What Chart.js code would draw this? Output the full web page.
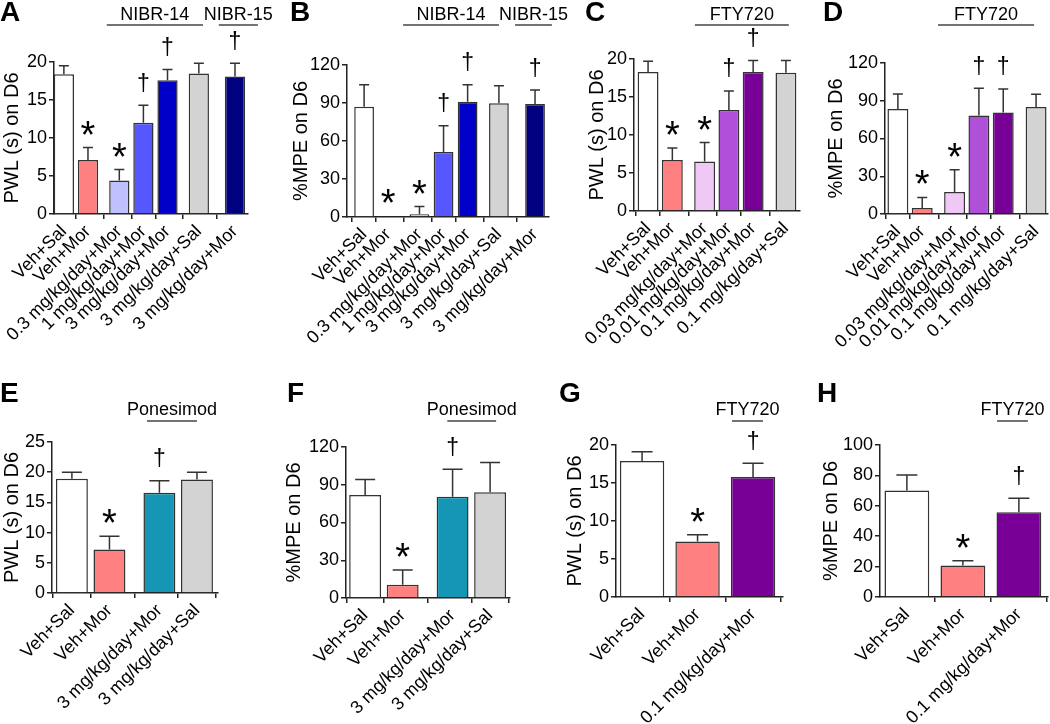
<!DOCTYPE html>
<html>
<head>
<meta charset="utf-8">
<script src="https://cdn.jsdelivr.net/npm/chart.js@4.4.1/dist/chart.umd.min.js"></script>
<style>
  body { margin: 0; background: #fff; width: 1050px; height: 724px; position: relative; overflow: hidden; }
  canvas { position: absolute; }
  .tag { position: absolute; font: bold 28px "Liberation Sans", Arial, sans-serif; line-height: 28px; color: #000; z-index: 5; }
</style>
</head>
<body>
<div class="tag" style="left:0px;top:-2px">A</div>
<div class="tag" style="left:290px;top:-2px">B</div>
<div class="tag" style="left:585px;top:-2px">C</div>
<div class="tag" style="left:823px;top:-2px">D</div>
<div class="tag" style="left:0px;top:379px">E</div>
<div class="tag" style="left:287px;top:379px">F</div>
<div class="tag" style="left:559px;top:379px">G</div>
<div class="tag" style="left:817px;top:379px">H</div>
<script>
// categories
var labelsNIBR = ['Veh+Sal', 'Veh+Mor', '0.3 mg/kg/day+Mor', '1 mg/kg/day+Mor', '3 mg/kg/day+Mor', '3 mg/kg/day+Sal', '3 mg/kg/day+Mor'];
var labelsFTY = ['Veh+Sal', 'Veh+Mor', '0.03 mg/kg/day+Mor', '0.01 mg/kg/day+Mor', '0.1 mg/kg/day+Mor', '0.1 mg/kg/day+Sal'];
var labelsPone = ['Veh+Sal', 'Veh+Mor', '3 mg/kg/day+Mor', '3 mg/kg/day+Sal'];
var labelsFTY2 = ['Veh+Sal', 'Veh+Mor', '0.1 mg/kg/day+Mor'];

// means and SEM (upper error only)
var pwlA = [18.4, 7.1, 4.4, 12.0, 17.6, 18.5, 18.1];
var pwlErrA = [1.1, 1.65, 1.45, 2.3, 1.4, 1.35, 1.75];
var mpeB = [87.0, 0.5, 2.1, 51.4, 91.0, 89.9, 89.2];
var mpeErrB = [17.4, 0, 6.1, 20.6, 13.4, 13.7, 11.0];
var pwlC = [18.3, 6.7, 6.5, 13.3, 18.3, 18.2];
var pwlErrC = [1.4, 1.6, 2.5, 2.5, 1.5, 1.6];
var mpeD = [83.5, 4.8, 17.4, 78.2, 80.6, 85.1];
var mpeErrD = [11.9, 8.4, 17.8, 21.7, 18.8, 10.0];
var pwlE = [18.9, 7.2, 16.6, 18.8];
var pwlErrE = [1.1, 2.2, 2.0, 1.2];
var mpeF = [81.9, 10.6, 80.4, 84.1];
var mpeErrF = [12.2, 11.6, 21.9, 23.5];
var pwlG = [17.9, 7.3, 15.8];
var pwlErrG = [1.2, 0.9, 1.8];
var mpeH = [70.0, 20.8, 55.7];
var mpeErrH = [10.3, 3.1, 9.2];

// significance markers
var marksNIBR = ['', '*', '*', '\u2020', '\u2020', '', '\u2020'];
var marksFTY = ['', '*', '*', '\u2020', '\u2020', ''];
var marksPone = ['', '*', '\u2020', ''];
var marksFTY2 = ['', '*', '\u2020'];

// bar fills
var colorsNIBR = ['#ffffff', '#ff8080', '#c0c0ff', '#5757ff', '#0000c8', '#d3d3d3', '#000080'];
var colorsFTY = ['#ffffff', '#ff8080', '#f0c8f6', '#b050d8', '#780096', '#d3d3d3'];
var colorsPone = ['#ffffff', '#ff8080', '#1496b4', '#d3d3d3'];
var colorsFTY2 = ['#ffffff', '#ff8080', '#780096'];

var FONT = '"Liberation Sans", Arial, sans-serif';
Chart.defaults.font.family = FONT;
Chart.defaults.color = '#000';

// error bars, * / dagger marks and drug brackets
var decor = {
  id: 'decor',
  afterDatasetsDraw: function (chart, args, o) {
    var ctx = chart.ctx, ys = chart.scales.y, xs = chart.scales.x;
    var bars = chart.getDatasetMeta(0).data;
    ctx.save();
    ctx.strokeStyle = '#333';
    ctx.lineWidth = 1.5;
    ctx.fillStyle = '#000';
    ctx.textAlign = 'center';
    bars.forEach(function (bar, i) {
      var e = o.err[i];
      var yTop = ys.getPixelForValue(o.values[i] + e);
      if (e > 0) {
        ctx.beginPath();
        ctx.moveTo(bar.x, bar.y);
        ctx.lineTo(bar.x, yTop);
        ctx.moveTo(bar.x - o.cap, yTop);
        ctx.lineTo(bar.x + o.cap, yTop);
        ctx.stroke();
      }
      var m = o.marks[i];
      if (m) {
        var star = m === '*';
        ctx.font = star ? '38px ' + FONT : '23px ' + FONT;
        ctx.textBaseline = 'alphabetic';
        var mt = ctx.measureText(m);
        var cy = yTop - (star ? 20 : 23);
        ctx.fillText(m, bar.x, cy + (mt.actualBoundingBoxAscent - mt.actualBoundingBoxDescent) / 2);
      }
    });
    ctx.font = '18px ' + FONT;
    ctx.textBaseline = 'middle';
    ctx.strokeStyle = '#444';
    o.groups.forEach(function (g) {
      var x0 = xs.getPixelForValue(g.x0), x1 = xs.getPixelForValue(g.x1);
      ctx.beginPath();
      ctx.moveTo(x0, o.lineY - o.top);
      ctx.lineTo(x1, o.lineY - o.top);
      ctx.stroke();
      ctx.fillText(g.text, (x0 + x1) / 2, o.textY - o.top);
    });
    ctx.restore();
  }
};

function positions(gaps) {
  var out = [], acc = 0;
  gaps.forEach(function (g, i) { acc += g; out.push(i + acc); });
  return out;
}

function panel(p) {
  var c = document.createElement('canvas');
  var bx = p.box[0], by = p.box[1], bw = p.box[2], bh = p.box[3];
  c.width = bw; c.height = bh;
  c.style.left = bx + 'px'; c.style.top = by + 'px';
  c.style.width = bw + 'px'; c.style.height = bh + 'px';
  document.body.appendChild(c);
  var pos = positions(p.gaps);
  var axisLine = { color: '#222', width: 1.5 };
  var tickGrid = { drawOnChartArea: false, drawTicks: true, tickLength: 5, color: '#222', lineWidth: 1.5 };
  new Chart(c, {
    type: 'bar',
    data: {
      datasets: [{
        data: p.values.map(function (v, i) { return { x: pos[i], y: v }; }),
        backgroundColor: p.colors,
        borderColor: '#333',
        borderWidth: 1.5,
        barPercentage: p.barPct,
        categoryPercentage: 1
      }]
    },
    options: {
      responsive: false,
      animation: false,
      devicePixelRatio: 1,
      layout: { padding: { left: 0, bottom: 0, top: p.plot[1] - by, right: bx + bw - p.plot[2] } },
      scales: {
        x: {
          type: 'linear', min: p.xr[0], max: p.xr[1], offset: false,
          afterBuildTicks: function (ax) { ax.ticks = pos.map(function (v) { return { value: v }; }); },
          afterFit: function (s) { s.height = by + bh - p.plot[3]; s.paddingLeft = 0; s.paddingRight = 0; },
          ticks: {
            autoSkip: false, minRotation: 45, maxRotation: 45, padding: 2,
            font: { size: 18 }, color: '#000',
            callback: function (v, i) { return p.labels[i]; }
          },
          grid: tickGrid, border: axisLine
        },
        y: {
          min: 0, max: p.yMax,
          afterFit: function (s) { s.width = p.plot[0] - bx; s.paddingTop = 0; s.paddingBottom = 0; },
          ticks: { stepSize: p.step, font: { size: 18 }, color: '#000', padding: 2 },
          title: { display: true, text: p.title, font: { size: 20 }, color: '#000', padding: { top: p.titleX - bx - 12, bottom: 0 } },
          grid: tickGrid, border: axisLine
        }
      },
      plugins: {
        legend: { display: false },
        tooltip: { enabled: false },
        decor: { values: p.values, err: p.err, marks: p.marks, cap: p.cap, groups: p.groups, lineY: p.lineY, textY: p.textY, top: by }
      }
    },
    plugins: [decor]
  });
}

var gapsNIBR = [0, 0, 0.3, 0, 0, 0.3, 0.5];
var gapsFTY = [0, 0, 0.33, 0, 0, 0.35];
var gapsPone = [0, 0, 0.33, 0];
var gapsFTY2 = [0, 0, 0];

var PWL = 'PWL (s) on D6', MPE = '%MPE on D6';

panel({ box: [0, 0, 290, 360], plot: [54, 62, 248, 214], xr: [-0.41, 7.64], gaps: gapsNIBR, labels: labelsNIBR,
  values: pwlA, err: pwlErrA, marks: marksNIBR, colors: colorsNIBR, yMax: 20, step: 5, title: PWL, titleX: 12,
  barPct: 0.84, cap: 5, lineY: 25, textY: 15,
  groups: [{ text: 'NIBR-14', x0: 1.78, x1: 5.77 }, { text: 'NIBR-15', x0: 6.43, x1: 8.05 }] });
panel({ box: [282, 0, 290, 360], plot: [347, 65, 549, 217], xr: [-0.71, 7.68], gaps: gapsNIBR, labels: labelsNIBR,
  values: mpeB, err: mpeErrB, marks: marksNIBR, colors: colorsNIBR, yMax: 120, step: 30, title: MPE, titleX: 301,
  barPct: 0.82, cap: 5, lineY: 25, textY: 15,
  groups: [{ text: 'NIBR-14', x0: 1.62, x1: 5.6 }, { text: 'NIBR-15', x0: 6.27, x1: 7.8 }] });
panel({ box: [578, 0, 240, 360], plot: [634, 59, 800, 211], xr: [-0.58, 6.26], gaps: gapsFTY, labels: labelsFTY,
  values: pwlC, err: pwlErrC, marks: marksFTY, colors: colorsFTY, yMax: 20, step: 5, title: PWL, titleX: 597,
  barPct: 0.86, cap: 5, lineY: 25, textY: 15,
  groups: [{ text: 'FTY720', x0: 1.93, x1: 5.8 }] });
panel({ box: [815, 0, 235, 360], plot: [885, 63, 1048, 214], xr: [-0.53, 6.17], gaps: gapsFTY, labels: labelsFTY,
  values: mpeD, err: mpeErrD, marks: marksFTY, colors: colorsFTY, yMax: 120, step: 30, title: MPE, titleX: 836,
  barPct: 0.86, cap: 5, lineY: 25, textY: 15,
  groups: [{ text: 'FTY720', x0: 1.65, x1: 5.6 }] });
panel({ box: [0, 380, 260, 344], plot: [52, 442, 218, 593], xr: [-0.53, 3.89], gaps: gapsPone, labels: labelsPone,
  values: pwlE, err: pwlErrE, marks: marksPone, colors: colorsPone, yMax: 25, step: 5, title: PWL, titleX: 12,
  barPct: 0.85, cap: 10, lineY: 421, textY: 410,
  groups: [{ text: 'Ponesimod', x0: 2.0, x1: 3.33 }] });
panel({ box: [270, 380, 260, 344], plot: [346, 447, 510, 598], xr: [-0.51, 3.86], gaps: gapsPone, labels: labelsPone,
  values: mpeF, err: mpeErrF, marks: marksPone, colors: colorsPone, yMax: 120, step: 30, title: MPE, titleX: 294,
  barPct: 0.85, cap: 10, lineY: 421, textY: 410,
  groups: [{ text: 'Ponesimod', x0: 2.19, x1: 3.49 }] });
panel({ box: [540, 380, 260, 344], plot: [616, 445, 783, 597], xr: [-0.47, 2.54], gaps: gapsFTY2, labels: labelsFTY2,
  values: pwlG, err: pwlErrG, marks: marksFTY2, colors: colorsFTY2, yMax: 20, step: 5, title: PWL, titleX: 575,
  barPct: 0.8, cap: 10.5, lineY: 421, textY: 410,
  groups: [{ text: 'FTY720', x0: 1.62, x1: 2.18 }] });
panel({ box: [800, 380, 250, 344], plot: [880, 445, 1048, 597], xr: [-0.48, 2.52], gaps: gapsFTY2, labels: labelsFTY2,
  values: mpeH, err: mpeErrH, marks: marksFTY2, colors: colorsFTY2, yMax: 100, step: 20, title: MPE, titleX: 831,
  barPct: 0.8, cap: 10.5, lineY: 421, textY: 410,
  groups: [{ text: 'FTY720', x0: 1.61, x1: 2.16 }] });
</script>
</body>
</html>
